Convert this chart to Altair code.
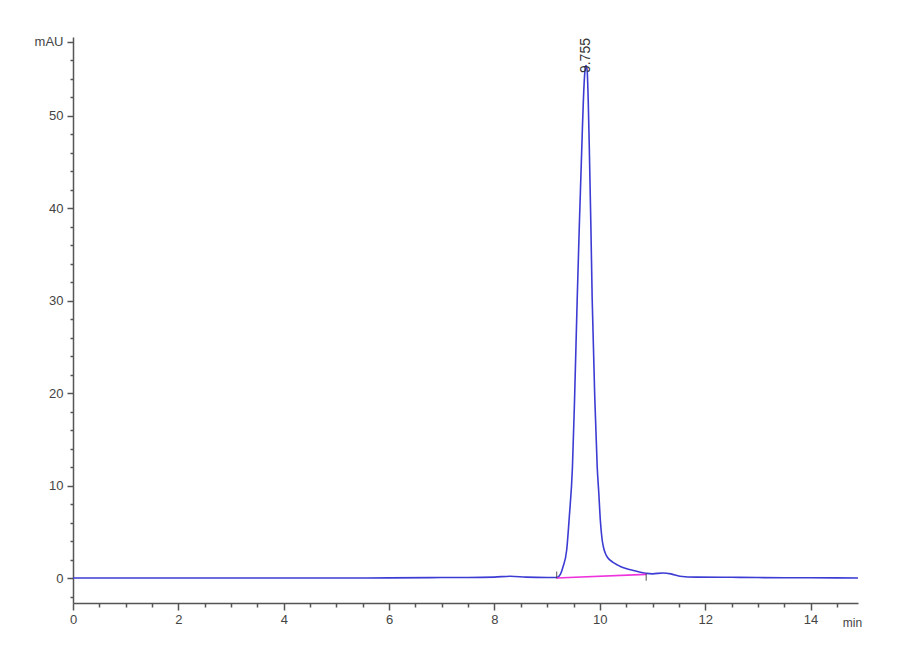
import altair as alt
import pandas as pd

# Chromatogram trace (retention time in min, absorbance in mAU)
time = [0, 1, 2, 3, 4, 5, 6, 7, 7.5, 8.0, 8.3, 8.6, 9.0, 9.18, 9.25, 9.30, 9.37,
        9.42, 9.48, 9.52, 9.57, 9.61, 9.67, 9.70, 9.72, 9.74, 9.76, 9.78, 9.80,
        9.83, 9.855, 9.905, 9.95, 9.98, 10.01, 10.04, 10.07, 10.11, 10.15, 10.25,
        10.34, 10.45, 10.6, 10.75, 10.88, 11.0, 11.2, 11.35, 11.52, 11.83, 12.5,
        13.0, 14.0, 14.9]
signal = [0.0, 0.0, 0.0, 0.0, 0.0, 0.0, 0.02, 0.05, 0.05, 0.1, 0.2, 0.1, 0.05, 0.05,
          0.4, 1.2, 3.0, 6.6, 12.0, 19.3, 30.1, 38.0, 48.8, 53.3, 55.0, 55.4, 54.8,
          51.5, 46.5, 38.0, 30.1, 19.3, 12.0, 9.2, 6.2, 4.3, 3.3, 2.6, 2.2, 1.7,
          1.4, 1.1, 0.86, 0.65, 0.5, 0.45, 0.55, 0.45, 0.2, 0.1, 0.08, 0.05, 0.03,
          0.0]

# Integration baseline
base_time = [9.18, 10.88]
base_value = [0.0, 0.4]
base_side = ["start", "end"]

# Peak annotation
peak_time = [9.745]
peak_value = [54.6]
peak_label = ["9.755"]

# Axis ticks
x_ticks = [i * 0.5 for i in range(30)]
y_ticks = list(range(-2, 59, 2))

FONT = "Liberation Sans Narrow, Liberation Sans, Arial, sans-serif"

trace = pd.DataFrame({"t": time, "v": signal})
base = pd.DataFrame({"t": base_time, "v": base_value, "side": base_side})
peak = pd.DataFrame({"t": peak_time, "v": peak_value, "label": peak_label})

x_scale = alt.Scale(domain=[0, 14.9], nice=False, zero=False)
y_scale = alt.Scale(domain=[-2.7, 58.5], nice=False, zero=False)

x_axis = alt.Axis(
    values=x_ticks, tickCount=200,
    labelExpr="datum.value % 2 === 0 ? format(datum.value, 'd') : ''",
    tickSize={"condition": {"test": "datum.value % 2 === 0", "value": 7}, "value": 4},
    grid=False, domainColor="#555555", tickColor="#555555", domainWidth=1.5,
    tickWidth=1.5, labelFont=FONT, labelFontSize=13, labelColor="#444444",
    labelPadding=3, labelFlush=False, labelOverlap=False,
    title="min", titleFont=FONT, titleFontSize=12, titleFontWeight="normal",
    titleColor="#444444", titleX=779, titleY=19, titleAlign="center",
    titleBaseline="middle",
)
y_axis = alt.Axis(
    values=y_ticks, tickCount=200,
    labelExpr="datum.value === 58 ? 'mAU' : (datum.value % 10 === 0 ? format(datum.value, 'd') : '')",
    tickSize={"condition": {"test": "datum.value % 10 === 0 || datum.value === 58",
                            "value": 6}, "value": 3},
    grid=False, domainColor="#555555", tickColor="#555555", domainWidth=1.5,
    tickWidth=1.5, labelFont=FONT, labelFontSize=13, labelColor="#444444",
    labelPadding=4, labelFlush=False, labelOverlap=False, title=None,
)

line = alt.Chart(trace).mark_line(color="#3c3cd4", strokeWidth=1.6,
                                  interpolate="monotone").encode(
    x=alt.X("t:Q", scale=x_scale, axis=x_axis),
    y=alt.Y("v:Q", scale=y_scale, axis=y_axis),
)

baseline = alt.Chart(base).mark_line(color="#ee33dd", strokeWidth=1.6).encode(
    x=alt.X("t:Q", scale=x_scale),
    y=alt.Y("v:Q", scale=y_scale),
)

start_mark = alt.Chart(base).transform_filter("datum.side === 'start'").mark_tick(
    color="#333333", orient="vertical", size=7, thickness=1.2, yOffset=-3).encode(
    x=alt.X("t:Q", scale=x_scale),
    y=alt.Y("v:Q", scale=y_scale),
)
end_mark = alt.Chart(base).transform_filter("datum.side === 'end'").mark_tick(
    color="#333333", orient="vertical", size=7, thickness=1.2, yOffset=3).encode(
    x=alt.X("t:Q", scale=x_scale),
    y=alt.Y("v:Q", scale=y_scale),
)

label = alt.Chart(peak).mark_text(angle=270, align="left", baseline="middle",
                                  font=FONT, fontSize=14, color="#333333").encode(
    x=alt.X("t:Q", scale=x_scale),
    y=alt.Y("v:Q", scale=y_scale),
    text="label:N",
)

chart = alt.layer(line, baseline, start_mark, end_mark, label).properties(
    width=785, height=566,
    background="white",
    autosize=alt.AutoSizeParams(type="none"),
    padding={"left": 65, "top": 29, "right": 30, "bottom": 40},
).configure_view(stroke=None)

chart.save("out.html", embed_options={"renderer": "svg", "actions": False})
